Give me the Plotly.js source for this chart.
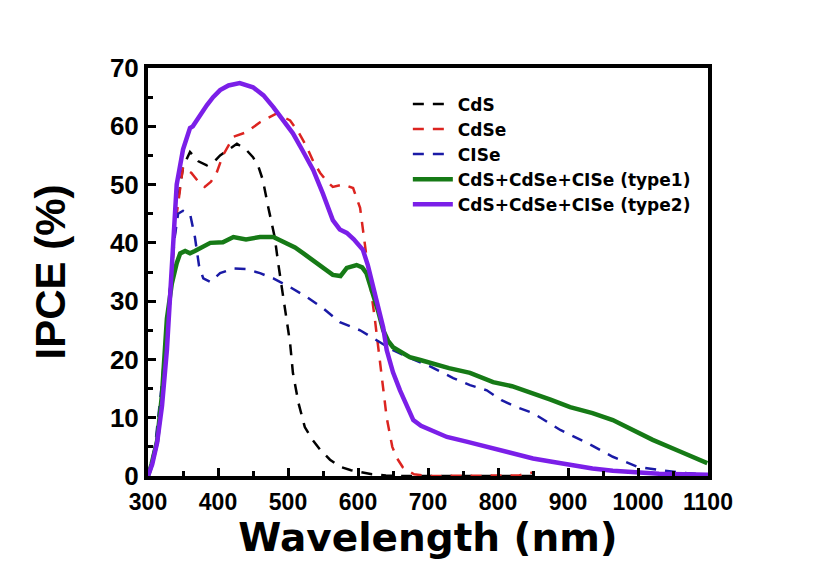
<!DOCTYPE html>
<html>
<head>
<meta charset="utf-8">
<script src="https://cdn.plot.ly/plotly-3.0.1.min.js"></script>
<style>html,body{margin:0;padding:0;background:#fff;}#chart{width:823px;height:572px;}</style>
</head>
<body>
<div id="chart"></div>
<script>
// Wavelength (nm) and IPCE (%)
const cdsX = [300, 310, 320, 330, 340, 350, 360, 372, 384, 395, 403, 415, 427, 440, 450, 458, 464, 472, 481, 486, 495, 503, 507, 515, 524, 535, 546, 560, 574, 590, 603, 620, 640, 660, 700, 800, 850];
const cdsY = [0, 4, 14, 30, 45, 53, 55.6, 54, 53.3, 54, 55, 56, 57, 56, 54.7, 53, 50.8, 46, 41, 36.5, 29, 22.8, 17.7, 12.5, 8.4, 6.2, 4.5, 2.8, 1.6, 1.0, 0.7, 0.3, 0.1, 0, 0, 0, 0];

const cdseX = [300, 310, 320, 330, 340, 350, 362, 372, 381, 390, 398, 407, 422, 441, 460, 484, 503, 515, 527, 536, 546, 556, 564, 579, 593, 603, 607, 615, 624, 629, 636, 641, 649, 656, 664, 680, 700, 750, 800, 830, 840, 850];
const cdseY = [0, 4, 13, 28, 44, 53, 52, 50.5, 49.6, 50.5, 52, 55, 58.2, 59, 60.7, 62.2, 61, 59, 56.4, 54, 52, 50.5, 49.6, 50, 49.4, 46, 42, 35, 27, 22, 15, 10, 5, 3, 1.5, 0.3, 0, 0, 0, 0.1, 0.4, 0.6];

const ciseX = [300, 310, 320, 330, 337, 343, 350, 360, 367, 373, 379, 389, 403, 422, 441, 460, 479, 503, 527, 550, 574, 603, 631, 650, 675, 703, 736, 760, 784, 805, 827, 850, 870, 889, 927, 964, 999, 1031, 1069, 1100];
const ciseY = [0, 5, 16, 30, 40, 45, 45.5, 45, 41, 36, 33.9, 33.3, 34.8, 35.6, 35.5, 34.8, 33.9, 32.4, 30.7, 28.8, 26.4, 25, 23, 21.6, 20.2, 18.8, 16.8, 15.6, 14.7, 13, 11.8, 10.8, 9.3, 7.9, 5.7, 3.3, 1.6, 1.0, 0.5, 0.2];

const type1X = [300, 305, 313, 320, 327, 334, 341, 346, 353, 360, 367, 380, 389, 407, 422, 440, 460, 479, 498, 510, 522, 536, 550, 564, 575, 584, 598, 606, 612, 621, 629, 636, 643, 650, 662, 674, 689, 703, 730, 760, 793, 820, 850, 875, 903, 935, 964, 990, 1021, 1060, 1099];
const type1Y = [0, 2, 6, 14, 27, 33, 36.5, 38.2, 38.6, 38.2, 38.6, 39.5, 40, 40.1, 41, 40.6, 41, 41, 40, 39.2, 38.2, 37, 35.8, 34.5, 34.3, 35.7, 36.2, 35.8, 34.8, 31.4, 28.2, 25, 23.2, 22.1, 21.2, 20.4, 19.9, 19.4, 18.5, 17.7, 16.1, 15.4, 14.2, 13.1, 11.8, 10.8, 9.6, 8.1, 6.2, 4.2, 2.2];

const type2X = [300, 306, 313, 320, 327, 334, 341, 350, 360, 364, 372, 384, 393, 403, 415, 431, 450, 465, 479, 493, 507, 521, 536, 550, 564, 574, 584, 594, 600, 607, 614, 621, 628, 636, 641, 650, 660, 670, 679, 690, 703, 727, 755, 784, 815, 850, 875, 903, 935, 964, 1000, 1030, 1065, 1100];
const type2Y = [0, 2, 5.7, 12, 21.6, 36, 50, 56, 59.7, 60, 61.5, 63.6, 65, 66.2, 67, 67.4, 66.7, 65.3, 63.3, 61.2, 58.8, 55.8, 52.5, 48.4, 43.9, 42.3, 41.7, 40.6, 39.8, 38.8, 36.2, 33, 29.2, 25.5, 21.6, 17.8, 14.7, 11.8, 9.6, 8.6, 7.9, 6.7, 5.9, 5.0, 4.2, 3.0, 2.5, 1.9, 1.3, 0.9, 0.6, 0.4, 0.3, 0.2];

const xTicks = [300, 400, 500, 600, 700, 800, 900, 1000, 1100];
const yTicks = [0, 10, 20, 30, 40, 50, 60, 70];

const seriesNames = ['CdS', 'CdSe', 'CISe', 'CdS+CdSe+CISe (type1)', 'CdS+CdSe+CISe (type2)'];

const traces = [
  {x: cdsX, y: cdsY, name: seriesNames[0], mode: 'lines', line: {color: '#000000', width: 2.5, dash: '11px,9px'}},
  {x: cdseX, y: cdseY, name: seriesNames[1], mode: 'lines', line: {color: '#dc2420', width: 2.5, dash: '11px,9px'}},
  {x: ciseX, y: ciseY, name: seriesNames[2], mode: 'lines', line: {color: '#1a1aa6', width: 2.5, dash: '11px,9px'}},
  {x: type1X, y: type1Y, name: seriesNames[3], mode: 'lines', line: {color: '#167a16', width: 4.5}},
  {x: type2X, y: type2Y, name: seriesNames[4], mode: 'lines', line: {color: '#7b1fe8', width: 4.5}}
];

const fontFam = 'Liberation Sans, Arial, sans-serif';
const wideFam = 'DejaVu Sans, Liberation Sans, sans-serif';

const layout = {
  width: 823, height: 572,
  margin: {l: 148, r: 115, t: 68, b: 96},
  paper_bgcolor: '#ffffff', plot_bgcolor: '#ffffff',
  showlegend: true,
  legend: {
    x: 0.464, y: 0.955, xanchor: 'left', yanchor: 'top',
    bgcolor: 'rgba(0,0,0,0)', borderwidth: 0,
    font: {family: wideFam, size: 17, color: '#000', weight: 'bold'},
    tracegroupgap: 0, itemwidth: 40
  },
  xaxis: {
    range: [300, 1100], tickvals: xTicks, ticktext: xTicks.map(String),
    showline: true, linecolor: '#000', linewidth: 4, mirror: true,
    ticks: 'inside', ticklen: 8, tickwidth: 3, tickcolor: '#000',
    minor: {dtick: 50, ticks: 'inside', ticklen: 5, tickwidth: 3, tickcolor: '#000'},
    showgrid: false, zeroline: false,
    ticklabelstandoff: 2,
    tickfont: {family: fontFam, size: 23, color: '#000', weight: 'bold'},
    title: {text: 'Wavelength (nm)', font: {family: wideFam, size: 39, color: '#000', weight: 'bold'}, standoff: 10}
  },
  yaxis: {
    range: [0, 70], tickvals: yTicks, ticktext: yTicks.map(String),
    showline: true, linecolor: '#000', linewidth: 4, mirror: true,
    ticks: 'inside', ticklen: 8, tickwidth: 3, tickcolor: '#000',
    minor: {dtick: 5, ticks: 'inside', ticklen: 5, tickwidth: 3, tickcolor: '#000'},
    showgrid: false, zeroline: false,
    tickfont: {family: fontFam, size: 26, color: '#000', weight: 'bold'},
    title: {text: 'IPCE (%)', font: {family: fontFam, size: 42, color: '#000', weight: 'bold'}, standoff: 32}
  }
};

Plotly.newPlot('chart', traces, layout, {displayModeBar: false, staticPlot: true});
</script>
</body>
</html>
